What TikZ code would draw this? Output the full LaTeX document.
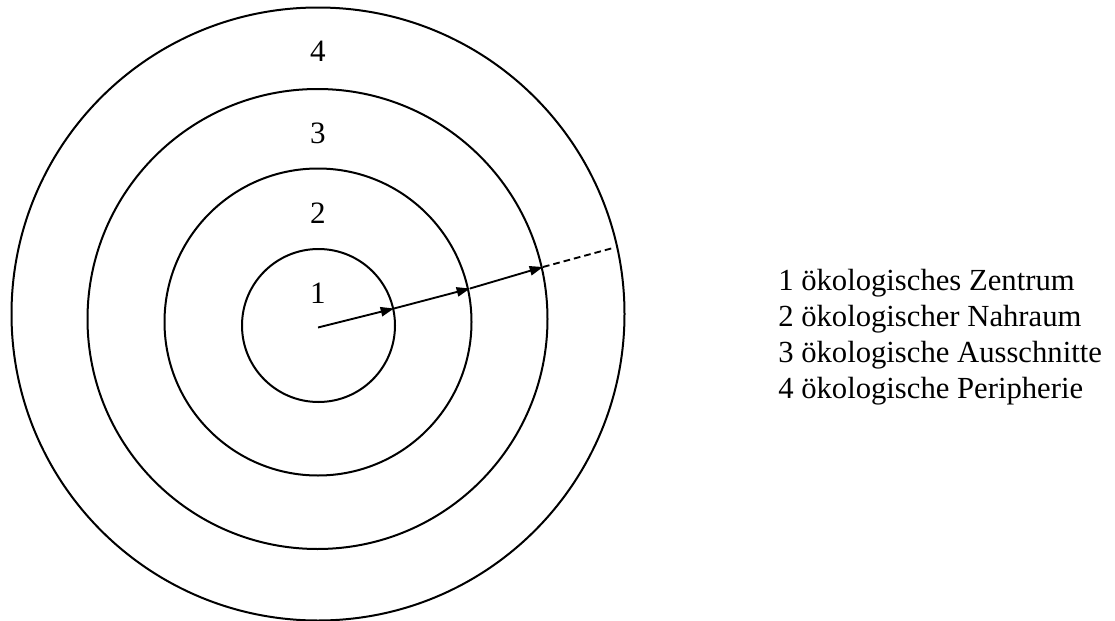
\documentclass[tikz,border=0pt]{standalone}
\usepackage{fontspec}
\setmainfont{Liberation Serif}
\usetikzlibrary{arrows.meta}
\begin{document}
\begin{tikzpicture}[x=0.75pt,y=-0.75pt,
  ring/.style={draw=black,line width=1.5pt},
  ptr/.style={draw=black,line width=1.4pt,-{Triangle[length=10pt,width=7pt]}},
  ptrdash/.style={draw=black,line width=1.4pt,dash pattern=on 5pt off 3pt},
  lbl/.style={font=\fontsize{23.3}{27.8}\selectfont,inner sep=0pt,anchor=base},
  leg/.style={font=\fontsize{23}{27.8}\selectfont,inner sep=0pt,anchor=base west}]
\useasboundingbox (0,0) rectangle (1115,621);
% rings
\draw[ring] (318.5,325.5) circle (76.5*0.75pt);
\draw[ring] (318,322) circle (153.5*0.75pt);
\draw[ring] (317.5,319) circle (230*0.75pt);
\draw[ring] (318,314) circle (306.5*0.75pt);
% ring numbers
\node[lbl] (n1) at (318,303) {1};
\node[lbl] (n2) at (318,223) {2};
\node[lbl] (n3) at (318,143) {3};
\node[lbl] (n4) at (318,61) {4};
% pointer
\coordinate (c0) at (318,327.5);
\coordinate (p1) at (394,308.5);
\coordinate (p2) at (470,288.5);
\coordinate (p3) at (543,267);
\coordinate (pe) at (613,248);
\draw[ptr] (c0) -- (p1);
\draw[ptr] (p1) -- (p2);
\draw[ptr] (p2) -- (p3);
\draw[ptrdash] (p3) -- (pe);
% legend
\node[leg] (l1) at (778,290.7) {1 ökologisches Zentrum};
\node[leg] (l2) at (778,326.6) {2 ökologischer Nahraum};
\node[leg] (l3) at (778,362.4) {3 ökologische Ausschnitte};
\node[leg] (l4) at (778,398.3) {4 ökologische Peripherie};
\end{tikzpicture}
\end{document}
